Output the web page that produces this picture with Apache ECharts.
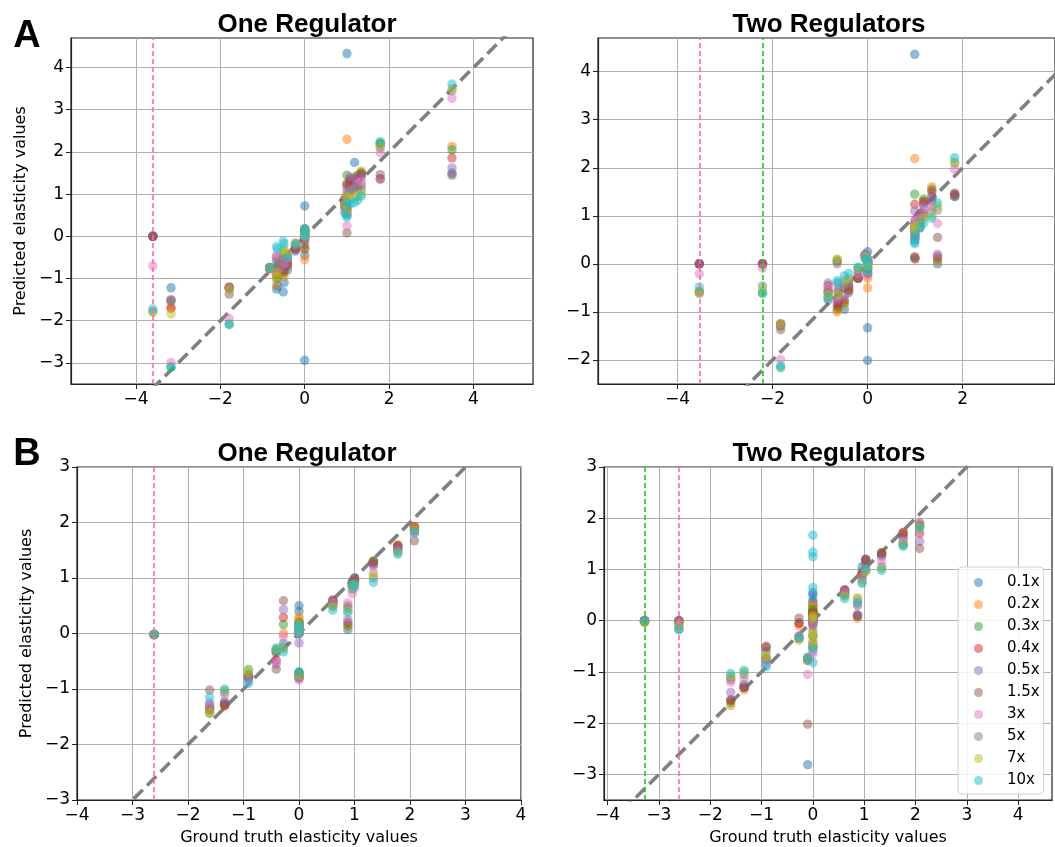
<!DOCTYPE html>
<html>
<head>
    <meta charset="utf-8" />
    <title>Predicted vs ground truth elasticities</title>
    <script src="https://cdn.jsdelivr.net/npm/echarts@6/dist/echarts.min.js"></script>
</head>
<body style="margin:0;background:#fff;">
    <div id="container" style="width:1055px;height:847px;"></div>
    <script>
        // perturbation levels, one scatter series each
        var labels = ['0.1x', '0.2x', '0.3x', '0.4x', '0.5x', '1.5x', '3x', '5x', '7x', '10x'];
        var colors = ['#1f77b4', '#ff7f0e', '#2ca02c', '#d62728', '#9467bd', '#8c564b', '#e377c2', '#7f7f7f', '#bcbd22', '#17becf'];

        // each panel: ground truth per elasticity, and one row of predictions per elasticity (one value per label)
        var truthA1 = [-3.6, -3.17, -1.79, -0.83, -0.67, -0.64, -0.51, -0.49, -0.41, -0.22, 0, 0, 0, 0.95, 1.0, 1.0, 1.07, 1.18, 1.25, 1.34, 1.79, 3.49];
        var predA1 = [
            [0, 0, 0, 0, 0, 0, -0.7, -1.78, -1.8, -1.72],
            [-1.22, -1.7, -3.1, -1.7, -1.5, -1.52, -2.99, -1.55, -1.84, -3.1],
            [-1.22, -1.22, -2.09, -1.2, -1.22, -1.37, -1.95, -1.25, -1.25, -2.08],
            [-0.75, -0.78, -0.75, -0.75, -0.74, -0.76, -0.76, -0.75, -0.75, -0.74],
            [-1.25, -1.15, -1.0, -0.9, -0.8, -0.5, -0.45, -0.6, -0.95, -0.25],
            [-1.18, -0.9, -0.95, -0.85, -0.75, -0.7, -0.55, -0.65, -0.85, -0.3],
            [-1.32, -0.9, -0.8, -0.75, -0.7, -0.55, -0.45, -0.5, -0.35, -0.12],
            [-1.1, -0.95, -0.85, -0.8, -0.75, -0.6, -0.65, -0.4, -0.3, -0.18],
            [-0.8, -0.7, -0.6, -0.65, -0.55, -0.7, -0.5, -0.45, -0.4, -0.5],
            [-0.35, -0.3, -0.25, -0.3, -0.28, -0.3, -0.2, -0.2, -0.15, -0.17],
            [0.72, 0.15, 0.18, 0.15, 0.12, 0.15, 0.1, 0.12, 0.15, 0.18],
            [-0.45, -0.55, -0.2, -0.1, -0.05, -0.3, 0.0, 0.05, 0.02, 0.08],
            [-2.94, -0.3, 0.05, 0.1, 0.08, 0.0, 0.05, 0.1, 0.05, 0.0],
            [0.7, 0.8, 0.9, 0.85, 0.8, 0.75, 0.6, 0.7, 0.75, 0.55],
            [4.33, 2.3, 1.45, 1.2, 1.1, 1.25, 0.9, 1.0, 0.95, 0.8],
            [0.5, 0.6, 0.7, 0.65, 0.75, 0.08, 0.25, 0.55, 0.6, 0.45],
            [1.2, 1.25, 1.3, 1.35, 1.4, 1.0, 1.05, 1.1, 0.9, 0.75],
            [1.75, 1.4, 1.35, 1.3, 1.35, 1.2, 1.1, 1.15, 0.9, 0.8],
            [1.35, 1.4, 1.45, 1.35, 1.3, 1.2, 1.25, 1.1, 0.95, 0.85],
            [1.5, 1.55, 1.5, 1.45, 1.4, 1.2, 1.3, 1.1, 1.0, 0.95],
            [2.2, 2.18, 2.2, 1.36, 1.36, 1.46, 1.98, 2.1, 2.15, 2.25],
            [1.5, 2.13, 2.05, 1.86, 1.62, 1.45, 3.27, 3.45, 3.5, 3.61]
        ];

        var truthA2 = [-3.54, -2.21, -1.83, -0.83, -0.64, -0.62, -0.49, -0.4, -0.2, -0.05, 0, 0, 0, 0.99, 0.99, 1.0, 1.1, 1.18, 1.35, 1.47, 1.83];
        var predA2 = [
            [0, -0.58, -0.58, 0, 0, 0, -0.21, -0.62, -0.58, -0.48],
            [0, 0, -0.61, 0, 0, 0, -0.09, -0.46, -0.55, -0.61],
            [-1.25, -1.25, -2.16, -1.27, -1.25, -1.37, -1.99, -1.3, -1.25, -2.12],
            [-0.75, -0.7, -0.6, -0.55, -0.4, -0.45, -0.5, -0.6, -0.65, -0.7],
            [-0.95, -1.0, 0.08, -0.85, -0.75, 0.05, -0.4, 0.0, 0.1, -0.35],
            [-0.9, -0.95, -0.9, -0.8, -0.7, -0.6, -0.5, -0.55, -0.65, -0.4],
            [-0.95, -0.85, -0.8, -0.75, -0.65, -0.5, -0.4, -0.45, -0.35, -0.25],
            [-0.6, -0.55, -0.5, -0.55, -0.45, -0.45, -0.35, -0.4, -0.3, -0.2],
            [-0.3, -0.28, -0.08, -0.3, -0.25, -0.3, -0.2, -0.15, -0.1, -0.07],
            [0.18, 0.15, 0.2, 0.17, 0.19, 0.15, 0.18, 0.12, 0.15, 0.1],
            [0.25, -0.5, 0.05, 0.0, 0.05, -0.05, 0.0, -0.1, -0.05, -0.15],
            [-1.33, -0.3, -0.2, -0.1, 0.0, -0.2, -0.25, -0.1, -0.05, 0.0],
            [-2.01, 0.1, 0.0, 0.05, 0.1, 0.05, 0.1, 0.0, 0.05, 0.1],
            [4.36, 2.19, 1.45, 1.24, 1.1, 0.12, 0.9, 0.8, 0.75, 0.42],
            [0.5, 0.65, 0.7, 0.75, 0.85, 0.15, 0.5, 0.6, 0.7, 0.45],
            [0.55, 0.7, 0.75, 0.8, 0.9, 0.1, 0.65, 0.7, 0.8, 0.6],
            [0.75, 0.8, 0.85, 0.9, 1.0, 1.05, 0.95, 0.85, 0.8, 0.75],
            [1.25, 1.3, 1.35, 1.3, 1.2, 1.05, 1.1, 1.0, 0.95, 0.85],
            [1.4, 1.6, 1.55, 1.5, 1.35, 1.3, 1.2, 1.1, 1.0, 0.95],
            [0.0, 0.05, 0.1, 0.15, 0.2, 0.55, 0.84, 1.12, 1.2, 1.27],
            [1.42, 1.42, 1.4, 1.45, 1.4, 1.47, 1.97, 2.1, 2.12, 2.21]
        ];

        var truthB1 = [-2.61, -1.61, -1.34, -0.91, -0.41, -0.28, 0, 0, 0, 0, 0.61, 0.88, 0.96, 1.0, 1.34, 1.78, 2.08];
        var predB1 = [
            [-0.02, -0.02, -0.02, -0.02, -0.02, -0.02, -0.02, -0.02, -0.02, -0.02],
            [-1.3, -1.35, -1.44, -1.38, -1.25, -1.02, -1.3, -1.35, -1.42, -1.15],
            [-1.25, -1.3, -1.28, -1.3, -1.22, -1.28, -1.1, -1.05, -1.03, -1.0],
            [-0.8, -0.75, -0.65, -0.8, -0.8, -0.75, -0.85, -0.78, -0.7, -0.9],
            [-0.35, -0.3, -0.32, -0.48, -0.55, -0.64, -0.5, -0.3, -0.28, -0.26],
            [-0.18, 0.0, 0.16, 0.29, 0.43, 0.59, -0.05, -0.25, -0.28, -0.33],
            [0.5, 0.3, 0.2, 0.15, -0.17, 0.1, 0.05, 0.05, 0.1, 0.15],
            [0.4, 0.25, 0.1, 0.05, 0.0, 0.2, 0.0, 0.1, 0.05, 0.0],
            [-0.7, -0.75, -0.7, -0.78, -0.8, -0.75, -0.84, -0.8, -0.75, -0.7],
            [0.2, 0.1, 0.05, 0.0, 0.0, 0.05, 0.1, 0.15, 0.2, 0.1],
            [0.55, 0.5, 0.55, 0.6, 0.58, 0.6, 0.55, 0.5, 0.48, 0.42],
            [0.07, 0.12, 0.15, 0.2, 0.25, 0.5, 0.55, 0.45, 0.4, 0.38],
            [0.85, 0.9, 0.88, 0.9, 0.95, 0.92, 0.72, 0.8, 0.85, 0.88],
            [1.0, 0.95, 0.92, 0.95, 1.0, 0.98, 0.82, 0.9, 0.88, 0.85],
            [1.28, 1.3, 1.3, 1.25, 1.22, 1.3, 1.1, 1.0, 1.05, 0.92],
            [1.55, 1.6, 1.52, 1.58, 1.55, 1.58, 1.5, 1.48, 1.45, 1.43],
            [1.9, 1.92, 1.88, 1.93, 1.85, 1.67, 1.8, 1.85, 1.88, 1.82]
        ];

        var truthB2 = [-3.28, -2.61, -1.6, -1.34, -0.91, -0.27, -0.1, 0, 0, 0, 0, 0, 0, 0.62, 0.87, 0.96, 1.03, 1.34, 1.76, 2.08];
        var predB2 = [
            [-0.02, 0, -0.03, 0, 0, 0, 0, 0, -0.04, 0],
            [-0.1, -0.05, -0.17, 0, 0, 0, -0.05, -0.05, -0.1, -0.17],
            [-1.55, -1.66, -1.6, -1.55, -1.4, -1.15, -1.2, -1.1, -1.08, -1.03],
            [-1.25, -1.35, -1.3, -1.3, -1.28, -1.3, -1.15, -1.05, -1.0, -0.97],
            [-0.6, -0.7, -0.75, -0.5, -0.85, -0.52, -0.8, -0.75, -0.7, -0.9],
            [-0.05, -0.1, -0.35, -0.05, -0.3, 0.05, -0.3, -0.35, -0.38, -0.32],
            [-2.81, -0.75, -0.72, -0.75, -0.78, -2.02, -1.05, -0.77, -0.75, -0.72],
            [0.55, 0.3, 0.2, 0.1, 0.0, 0.05, -0.05, 0.0, 0.1, 1.67],
            [0.5, 0.25, 0.15, 0.12, 0.02, 0.0, 0.0, 0.05, 0.05, 1.34],
            [0.35, 0.2, 0.1, 0.05, 0.05, -0.1, -0.6, -0.2, -0.3, 1.25],
            [0.4, 0.28, 0.22, 0.15, 0.0, 0.1, -0.55, -0.45, -0.5, 0.65],
            [0.3, 0.15, -0.3, 0.0, -0.05, 0.05, -0.65, -0.5, -0.45, -0.82],
            [0.2, 0.1, -0.5, 0.08, 0.03, -0.05, -0.4, -0.3, -0.25, -0.55],
            [0.55, 0.55, 0.5, 0.6, 0.58, 0.6, 0.55, 0.5, 0.48, 0.43],
            [0.08, 0.05, 0.1, 0.1, 0.12, 0.3, 0.35, 0.42, 0.45, 0.35],
            [1.05, 0.92, 0.88, 0.9, 0.92, 0.95, 0.85, 0.8, 0.75, 0.73],
            [1.2, 1.15, 1.1, 1.18, 1.15, 1.2, 1.0, 0.98, 0.95, 1.0],
            [1.28, 1.3, 1.32, 1.3, 1.25, 1.33, 1.15, 1.05, 1.02, 0.98],
            [1.65, 1.72, 1.5, 1.7, 1.6, 1.72, 1.55, 1.48, 1.5, 1.45],
            [1.9, 1.88, 1.85, 1.7, 1.55, 1.41, 1.92, 1.85, 1.82, 1.8]
        ];

        // dashed vertical reference lines (ground truth values)
        var pinkLines = [[-3.6], [-3.54], [-2.61], [-2.61]];
        var greenLines = [[], [-2.21], [], [-3.28]];

        // tick labels
        var xTicksA1 = [-4, -2, 0, 2, 4], yTicksA1 = [-3, -2, -1, 0, 1, 2, 3, 4];
        var xTicksA2 = [-4, -2, 0, 2], yTicksA2 = [-2, -1, 0, 1, 2, 3, 4];
        var xTicksB = [-4, -3, -2, -1, 0, 1, 2, 3, 4], yTicksB = [-3, -2, -1, 0, 1, 2, 3];

        var identity = [-10, 10];

        var panels = [
            { truth: truthA1, pred: predA1, box: [71, 38, 462, 346], xr: [-5.54, 5.41], yr: [-3.5, 4.7], xt: xTicksA1, yt: yTicksA1, xName: '', yName: 'Predicted elasticity values', title: 'One Regulator', tx: 307, ty: 25 },
            { truth: truthA2, pred: predA2, box: [598, 38, 462, 346], xr: [-5.67, 3.94], yr: [-2.5, 4.7], xt: xTicksA2, yt: yTicksA2, xName: '', yName: '', title: 'Two Regulators', tx: 829, ty: 25 },
            { truth: truthB1, pred: predB1, box: [77, 467, 444, 334], xr: [-4, 4], yr: [-3, 3], xt: xTicksB, yt: yTicksB, xName: 'Ground truth elasticity values', yName: 'Predicted elasticity values', title: 'One Regulator', tx: 307, ty: 454 },
            { truth: truthB2, pred: predB2, box: [604, 467, 448, 334], xr: [-4.07, 4.66], yr: [-3.5, 3], xt: xTicksB, yt: yTicksB, xName: 'Ground truth elasticity values', yName: '', title: 'Two Regulators', tx: 829, ty: 454 }
        ];

        function minus(v) { return String(v).replace('-', '\u2212'); }

        var dom = document.getElementById('container');
        var myChart = echarts.init(dom);

        var grids = [], xAxes = [], yAxes = [], series = [], graphics = [];
        var tickText = { fontFamily: 'DejaVu Sans', fontSize: 17, color: '#000' };
        var nameText = { fontFamily: 'DejaVu Sans', fontSize: 16, color: '#000' };

        panels.forEach(function (p, k) {
            grids.push({ left: p.box[0], top: p.box[1], width: p.box[2], height: p.box[3], show: true, borderColor: '#222', borderWidth: 1.2, backgroundColor: '#fff' });
            xAxes.push({
                gridIndex: k, type: 'value', min: p.xr[0], max: p.xr[1],
                axisLine: { show: true, onZero: false, lineStyle: { color: '#222', width: 1.2 } },
                axisTick: { show: true, length: 5, customValues: p.xt, lineStyle: { color: '#222' } },
                axisLabel: Object.assign({ customValues: p.xt, formatter: minus, margin: 7 }, tickText),
                splitLine: { show: true, lineStyle: { color: '#b0b0b0', width: 1 } },
                name: p.xName, nameLocation: 'middle', nameGap: 30, nameTextStyle: nameText
            });
            yAxes.push({
                gridIndex: k, type: 'value', min: p.yr[0], max: p.yr[1],
                axisLine: { show: true, onZero: false, lineStyle: { color: '#222', width: 1.2 } },
                axisTick: { show: true, length: 5, customValues: p.yt, lineStyle: { color: '#222' } },
                axisLabel: Object.assign({ customValues: p.yt, formatter: minus, margin: 7 }, tickText),
                splitLine: { show: true, lineStyle: { color: '#b0b0b0', width: 1 } },
                name: p.yName, nameLocation: 'middle', nameGap: 42, nameTextStyle: nameText
            });

            var marks = [];
            pinkLines[k].forEach(function (v) {
                marks.push({ xAxis: v, lineStyle: { color: '#ff69b4', width: 1.6, type: [5, 3] } });
            });
            greenLines[k].forEach(function (v) {
                marks.push({ xAxis: v, lineStyle: { color: '#22c822', width: 1.6, type: [5, 3] } });
            });

            // y = x reference
            series.push({
                type: 'line', xAxisIndex: k, yAxisIndex: k, z: 1,
                data: [[identity[0], identity[0]], [identity[1], identity[1]]],
                showSymbol: false, silent: true, clip: true,
                lineStyle: { color: '#808080', width: 3.6, type: [13, 6] },
                markLine: { silent: true, symbol: ['none', 'none'], label: { show: false }, data: marks, animation: false }
            });

            labels.forEach(function (name, s) {
                series.push({
                    name: name, type: 'scatter', xAxisIndex: k, yAxisIndex: k, z: 3,
                    symbol: 'circle', symbolSize: 9.5,
                    itemStyle: { color: colors[s], opacity: 0.5 },
                    data: p.truth.map(function (x, i) { return [x, p.pred[i][s]]; })
                });
            });

            graphics.push({
                type: 'text', x: p.tx, y: p.ty,
                style: { text: p.title, font: 'bold 26px "Liberation Sans", Arial, sans-serif', fill: '#000', align: 'center', verticalAlign: 'middle', textAlign: 'center', textVerticalAlign: 'middle' }
            });
        });

        graphics.push({ type: 'text', x: 27, y: 37, style: { text: 'A', font: 'bold 38px "Liberation Sans", Arial, sans-serif', fill: '#000', align: 'center', verticalAlign: 'middle', textAlign: 'center', textVerticalAlign: 'middle' } });
        graphics.push({ type: 'text', x: 27, y: 455, style: { text: 'B', font: 'bold 38px "Liberation Sans", Arial, sans-serif', fill: '#000', align: 'center', verticalAlign: 'middle', textAlign: 'center', textVerticalAlign: 'middle' } });

        var option = {
            animation: false,
            backgroundColor: '#fff',
            grid: grids,
            xAxis: xAxes,
            yAxis: yAxes,
            legend: {
                data: labels, orient: 'vertical', left: 958, top: 567,
                itemWidth: 27, itemHeight: 9, itemGap: 7, icon: 'circle',
                padding: [8, 4, 6, 16],
                backgroundColor: 'rgba(255,255,255,0.85)', borderColor: '#d0d0d0', borderWidth: 1, borderRadius: 4,
                textStyle: { fontFamily: 'DejaVu Sans', fontSize: 15, color: '#000', padding: [0, 0, 0, 10] }
            },
            graphic: graphics,
            series: series
        };
        myChart.setOption(option);
    </script>
</body>
</html>
